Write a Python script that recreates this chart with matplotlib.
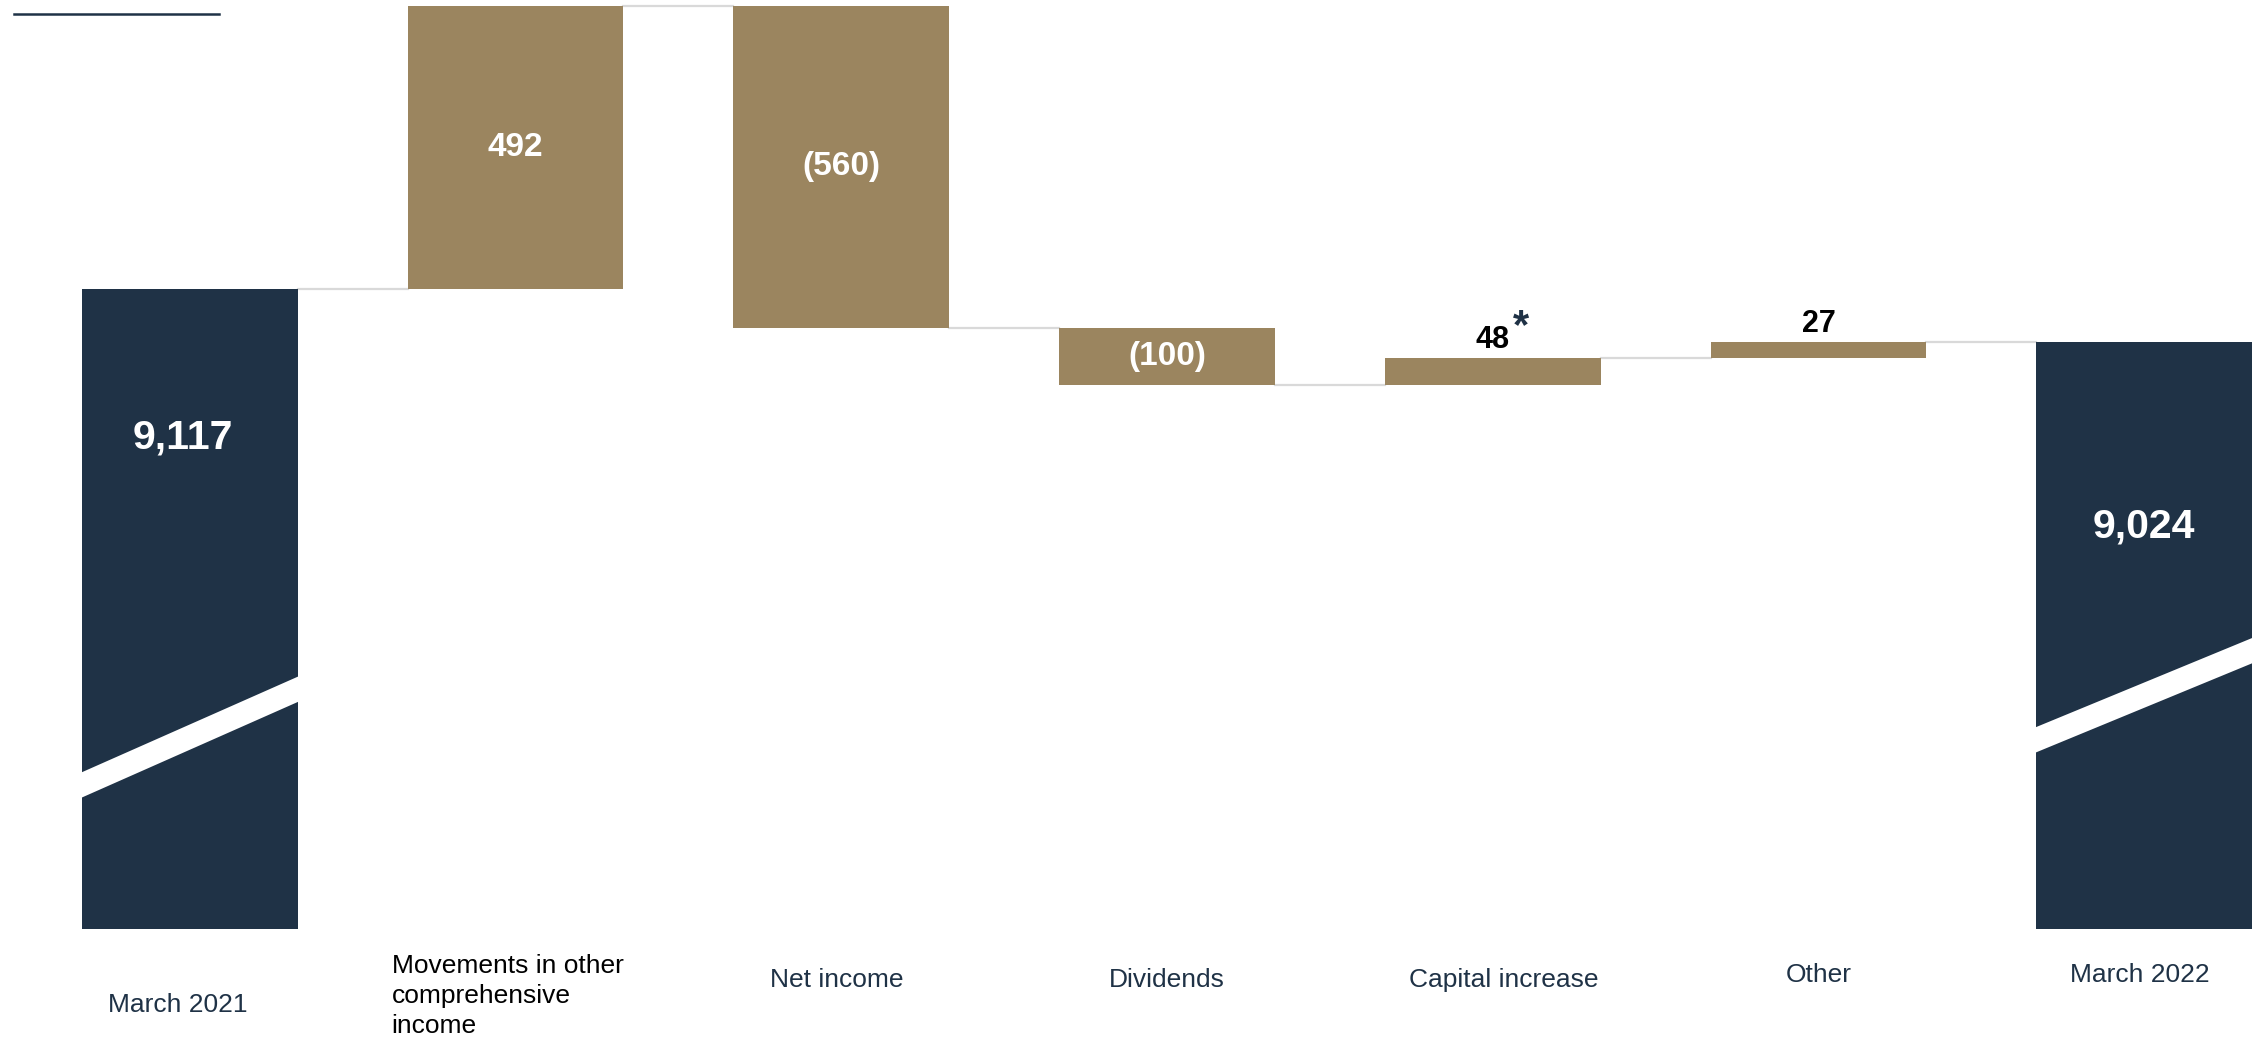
import matplotlib
matplotlib.use("Agg")
import matplotlib.pyplot as plt
from matplotlib.lines import Line2D
from matplotlib.patches import Polygon

plt.rcParams["font.family"] = ["Liberation Sans", "DejaVu Sans"]

# data
categories = [
    "March 2021",
    "Movements in other\ncomprehensive\nincome",
    "Net income",
    "Dividends",
    "Capital increase",
    "Other",
    "March 2022",
]
opening_total = 9117
deltas = [492, -560, -100, 48, 27]
closing_total = 9024
footnote_marks = ["", "", "", "*", ""]

# style
NAVY = "#1F3246"
GOLD = "#9B855F"
CONNECTOR = "#D9D9D9"
AXIS_FLOOR = 8004  # broken axis: bars of the totals start here
BAR_WIDTH = 0.662
LABEL_Y = [0.038, 0.047, 0.062, 0.062, 0.062, 0.067, 0.067]  # axes fraction
LABEL_DX = [-8.6, -5.8, -3.2, 0, 7.7, 0, -3.2]  # points
LABEL_COLORS = [NAVY, "black", NAVY, NAVY, NAVY, NAVY, NAVY]
TOTAL_LABEL_DROP = [259, 321]
TOTAL_LABEL_DX = [-5.4, 0]  # points
BREAKS = [(8249, 8425), (8328, 8492)]  # centre of break band, left/right edge
BREAK_HALF = 22


def fmt_delta(value: int) -> str:
    return f"({abs(value):,})" if value < 0 else f"{value:,}"


fig = plt.figure(figsize=(22.55, 10.45), dpi=100)
ax = fig.add_axes([0, 0, 1, 1])
ax.set_xlim(-0.5828, 6.34)
ax.set_ylim(7801.5, 9619)
ax.axis("off")

positions = list(range(len(categories)))

# totals
totals = [opening_total, closing_total]
total_pos = [positions[0], positions[-1]]
ax.bar(total_pos, [t - AXIS_FLOOR for t in totals], bottom=AXIS_FLOOR,
       width=BAR_WIDTH, color=NAVY, zorder=2)

# deltas
levels = [opening_total]
for d in deltas:
    levels.append(levels[-1] + d)
bottoms = [min(levels[i], levels[i + 1]) for i in range(len(deltas))]
heights = [abs(d) for d in deltas]
ax.bar(positions[1:-1], heights, bottom=bottoms, width=BAR_WIDTH,
       color=GOLD, zorder=2)

# connectors
for i in range(len(categories) - 1):
    y = levels[i]
    ax.plot([positions[i] + BAR_WIDTH / 2, positions[i + 1] - BAR_WIDTH / 2],
            [y, y], color=CONNECTOR, lw=1.6, zorder=1)

# axis break bands
for pos, (y_left, y_right) in zip(total_pos, BREAKS):
    x0 = pos - BAR_WIDTH / 2 - 0.02
    x1 = pos + BAR_WIDTH / 2 + 0.02
    band = Polygon([(x0, y_left - BREAK_HALF), (x1, y_right - BREAK_HALF),
                    (x1, y_right + BREAK_HALF), (x0, y_left + BREAK_HALF)],
                   closed=True, facecolor="white", edgecolor="none", zorder=3)
    ax.add_patch(band)

# total labels
for pos, total, drop, dx in zip(total_pos, totals, TOTAL_LABEL_DROP,
                                TOTAL_LABEL_DX):
    ax.annotate(f"{total:,}", (pos, total - drop), xytext=(dx, 0),
                textcoords="offset points", color="white", fontsize=29.5,
                fontweight="bold", ha="center", va="center", zorder=4)

# delta labels
for pos, bottom, height, d, mark in zip(positions[1:-1], bottoms, heights,
                                        deltas, footnote_marks):
    if height >= 80:
        ax.text(pos, bottom + height / 2, fmt_delta(d), color="white",
                fontsize=24, fontweight="bold", ha="center", va="center",
                zorder=4)
    else:
        ax.annotate(fmt_delta(d), (pos, bottom + height), xytext=(0, 13),
                    textcoords="offset points", color="black", fontsize=22,
                    fontweight="bold", ha="center", va="center", zorder=4)
        if mark:
            ax.annotate(mark, (pos, bottom + height), xytext=(20, 22),
                        textcoords="offset points", color=NAVY, fontsize=30,
                        fontweight="bold", ha="center", va="center", zorder=4)

# category labels
for pos, name, y, dx, color in zip(positions, categories, LABEL_Y, LABEL_DX,
                                   LABEL_COLORS):
    ax.annotate(name, (pos, y), xycoords=("data", "axes fraction"),
                xytext=(dx, 0), textcoords="offset points", color=color,
                fontsize=19, ha="center", va="center", multialignment="left",
                linespacing=1.3)

# decorative rule top left
fig.add_artist(Line2D([14 / 2255, 219 / 2255], [1 - 13.5 / 1045, 1 - 13.5 / 1045],
                      color=NAVY, lw=1.8))

fig.savefig("out.png", dpi=100)
